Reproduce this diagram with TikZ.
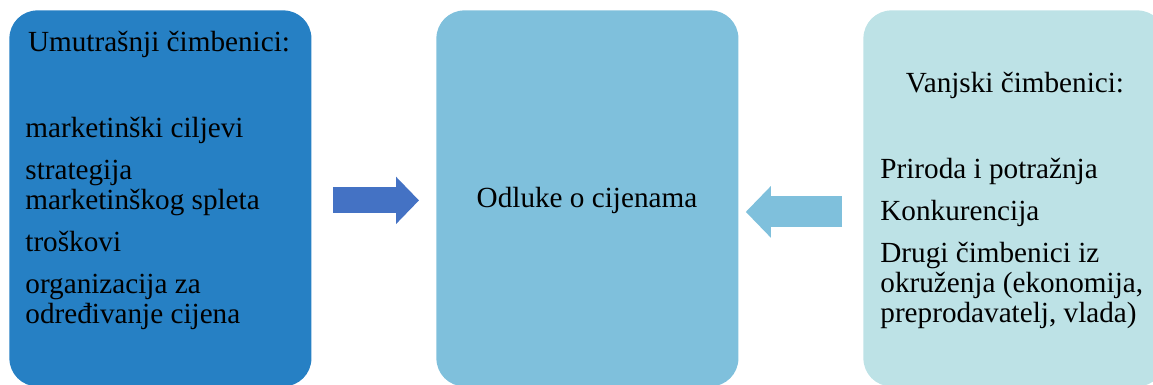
\documentclass[tikz,border=0pt]{standalone}
\usepackage{fontspec}
\setmainfont{Liberation Serif}
\usetikzlibrary{arrows.meta}
\definecolor{innerblue}{RGB}{38,128,196}
\definecolor{midblue}{RGB}{127,192,220}
\definecolor{outerblue}{RGB}{189,226,230}
\definecolor{arrowblue}{RGB}{68,114,196}
\tikzset{
  factorbox/.style={rounded corners=14pt, minimum width=151pt, minimum height=188pt, inner sep=0pt, anchor=north west},
  boxtext/.style={font=\fontsize{14.6}{15}\selectfont, inner sep=0pt},
}
\begin{document}
\begin{tikzpicture}[x=0.5pt,y=-0.5pt]
	\def \boxtop {10};
	\useasboundingbox (0,0) rectangle (1153,385);
	% the three boxes
	\node[factorbox,fill=innerblue] (inner) at (9,\boxtop) {};
	\node[factorbox,fill=midblue] (decision) at (436,\boxtop) {};
	\node[factorbox,fill=outerblue] (outer) at (863,\boxtop) {};
	% texts (lists sit on their last line)
	\node[boxtext,anchor=base] (innertitle) at (159,52) {Umutrašnji čimbenici:};
	\node[boxtext,anchor=base west,align=left] (innerlist) at (25,323) {marketinški ciljevi\\[6pt] strategija\\ marketinškog spleta\\[6pt] troškovi\\[6pt] organizacija za\\ određivanje cijena};
	\node[boxtext,anchor=base] (decisiontext) at (587,208) {Odluke o cijenama};
	\node[boxtext,anchor=base] (outertitle) at (1015,93) {Vanjski čimbenici:};
	\node[boxtext,anchor=base west,align=left] (outerlist) at (880,322) {Priroda i potražnja\\[6pt] Konkurencija\\[6pt] Drugi čimbenici iz\\ okruženja (ekonomija,\\ preprodavatelj, vlada)};
	% block arrows
	\draw[arrowblue,line width=13pt,-{Triangle[length=11.5pt,width=23pt]},shorten <=10.5pt,shorten >=8.5pt] ([yshift=-1pt]inner.east) -- ([yshift=-1pt]decision.west);
	\draw[midblue,line width=15.5pt,-{Triangle[length=12.5pt,width=25pt]},shorten <=10.5pt,shorten >=3.5pt] ([yshift=-6.75pt]outer.west) -- ([yshift=-6.75pt]decision.east);
\end{tikzpicture}
\end{document}
